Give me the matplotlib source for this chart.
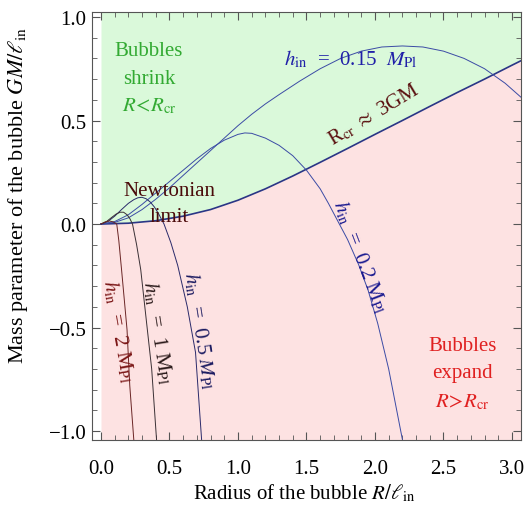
import numpy as np
import matplotlib
matplotlib.use("Agg")
import matplotlib.pyplot as plt
from matplotlib.ticker import MultipleLocator, FuncFormatter

plt.rcParams['font.family'] = ['Liberation Serif', 'DejaVu Serif']
plt.rcParams['mathtext.fontset'] = 'stix'

# critical radius line R_cr ~ 3GM
rcr_R = [0.0, 0.2, 0.4, 0.6, 0.8, 1.0, 1.2, 1.4, 1.6, 1.8, 2.0, 2.2, 2.4, 2.6, 2.8, 3.0, 3.07]
rcr_M = [0.0, 0.004, 0.016, 0.038, 0.07, 0.115, 0.17, 0.232, 0.298, 0.365, 0.433, 0.50, 0.568,
         0.635, 0.70, 0.767, 0.79]

# h_in = 0.15 M_Pl
h015_R = [0.0, 0.1, 0.2, 0.3, 0.4, 0.5, 0.6, 0.7, 0.8, 0.9, 1.0, 1.1, 1.2, 1.3, 1.45, 1.6,
          1.75, 1.9, 2.05, 2.2, 2.35, 2.5, 2.65, 2.8, 2.95, 3.07]
h015_M = [0.0, 0.008, 0.03, 0.07, 0.12, 0.175, 0.235, 0.295, 0.355, 0.415, 0.475, 0.53, 0.58,
          0.625, 0.69, 0.75, 0.80, 0.835, 0.855, 0.86, 0.855, 0.835, 0.80, 0.75, 0.68, 0.61]

# h_in = 0.2 M_Pl
h02_R = [0.0, 0.1, 0.2, 0.3, 0.4, 0.5, 0.6, 0.7, 0.8, 0.9, 1.0, 1.05, 1.1, 1.2, 1.3, 1.4,
         1.5, 1.6, 1.66, 1.72, 1.8, 1.88, 1.95, 2.02, 2.1, 2.2]
h02_M = [0.0, 0.012, 0.045, 0.095, 0.15, 0.205, 0.26, 0.315, 0.365, 0.405, 0.433, 0.44, 0.438,
         0.415, 0.38, 0.33, 0.26, 0.17, 0.10, 0.025, -0.075, -0.195, -0.32, -0.48, -0.70, -1.04]

# h_in = 0.5 M_Pl
h05_R = [0.0, 0.05, 0.1, 0.15, 0.2, 0.24, 0.27, 0.30, 0.33, 0.36, 0.39, 0.42, 0.46, 0.51,
         0.56, 0.63, 0.69, 0.735]
h05_M = [0.0, 0.012, 0.038, 0.07, 0.10, 0.118, 0.127, 0.129, 0.122, 0.106, 0.082, 0.05, 0.0,
         -0.09, -0.2, -0.4, -0.62, -1.047]

# h_in = 1 M_Pl
h1_R = [0.0, 0.04, 0.08, 0.11, 0.14, 0.165, 0.19, 0.21, 0.23, 0.26, 0.29, 0.33, 0.37, 0.406]
h1_M = [0.0, 0.012, 0.033, 0.048, 0.057, 0.057, 0.045, 0.027, 0.0, -0.1, -0.22, -0.46, -0.70,
        -1.047]

# h_in = 2 M_Pl
h2_R = [0.0, 0.03, 0.06, 0.09, 0.115, 0.13, 0.15, 0.19, 0.21, 0.24]
h2_M = [0.0, 0.01, 0.015, 0.01, 0.0, -0.08, -0.22, -0.51, -0.78, -1.047]

x_ticks = [0.0, 0.5, 1.0, 1.5, 2.0, 2.5, 3.0]
y_ticks = [-1.0, -0.5, 0.0, 0.5, 1.0]

fig = plt.figure(figsize=(5.27, 5.06), dpi=100)
ax = fig.add_axes([92/527, 1-441/506, (521-92)/527, (441-13)/506])
xmin, xmax = -0.0657, 3.066
ymin, ymax = -1.043, 1.024
ax.set_xlim(xmin, xmax)
ax.set_ylim(ymin, ymax)

# shaded regions above / below the critical line
ax.fill_between(rcr_R, rcr_M, ymax, color='#daf9da', lw=0, zorder=0)
ax.fill_between(rcr_R, ymin, rcr_M, color='#fde2e2', lw=0, zorder=0)

ax.plot(rcr_R, rcr_M, color='#2b3585', lw=1.2)
ax.plot(h015_R, h015_M, color='#3b4ba5', lw=0.7)
ax.plot(h02_R, h02_M, color='#3b4ba5', lw=0.7)
ax.plot(h05_R, h05_M, color='#2a2a6a', lw=0.7)
ax.plot(h1_R, h1_M, color='#3a3035', lw=0.7)
ax.plot(h2_R, h2_M, color='#6a2525', lw=0.7)

# annotations
fs = 15
ax.text(0.35, 0.836, "Bubbles", color='#33aa33', fontsize=fs, ha='center', va='center')
ax.text(0.35, 0.705, "shrink", color='#33aa33', fontsize=fs, ha='center', va='center')
ax.text(0.35, 0.575, r"$R\!<\!R_{\rm cr}$", color='#33aa33', fontsize=fs, ha='center', va='center')

ax.text(2.64, -0.585, "Bubbles", color='#e02020', fontsize=fs, ha='center', va='center')
ax.text(2.64, -0.715, "expand", color='#e02020', fontsize=fs, ha='center', va='center')
ax.text(2.64, -0.855, r"$R\!>\!R_{\rm cr}$", color='#e02020', fontsize=fs, ha='center', va='center')

ax.text(0.50, 0.16, "Newtonian", color='#4a0a0a', fontsize=fs, ha='center', va='center')
ax.text(0.50, 0.034, "limit", color='#4a0a0a', fontsize=fs, ha='center', va='center')

ax.text(1.99, 0.53, r"R$_{\rm cr}$ $\approx$ 3GM", color='#5a0f0f', fontsize=fs,
        ha='center', va='center', rotation=31, rotation_mode='anchor')

ax.text(1.82, 0.80, r"$h_{\rm in}$  =  0.15  $M_{\rm Pl}$", color='#2020a8', fontsize=fs,
        ha='center', va='center')
ax.text(1.89, -0.155, r"$h_{\rm in}$  =  0.2 M$_{\rm Pl}$", color='#1a1a90', fontsize=fs,
        ha='center', va='center', rotation=-69, rotation_mode='anchor')
ax.text(0.72, -0.51, r"$h_{\rm in}$  =  0.5 $M_{\rm Pl}$", color='#1a1a60', fontsize=fs,
        ha='center', va='center', rotation=-81, rotation_mode='anchor')
ax.text(0.416, -0.517, r"$h_{\rm in}$  =  1 M$_{\rm Pl}$", color='#2a1a1a', fontsize=fs,
        ha='center', va='center', rotation=-81, rotation_mode='anchor')
ax.text(0.124, -0.512, r"$h_{\rm in}$  =  2 M$_{\rm Pl}$", color='#7a1515', fontsize=fs,
        ha='center', va='center', rotation=-80, rotation_mode='anchor')

# axes styling
def fmt(v, pos):
    return ("%.1f" % v).replace("-", "\u2212")

ax.set_xticks(x_ticks)
ax.set_yticks(y_ticks)
ax.xaxis.set_minor_locator(MultipleLocator(0.1))
ax.yaxis.set_minor_locator(MultipleLocator(0.1))
ax.xaxis.set_major_formatter(FuncFormatter(fmt))
ax.yaxis.set_major_formatter(FuncFormatter(fmt))
ax.tick_params(which='both', direction='in', top=True, right=True, color='#555555')
ax.tick_params(which='major', length=6, width=0.8, labelsize=fs)
ax.tick_params(which='minor', length=3.5, width=0.6)
ax.tick_params(axis='x', pad=14)
ax.tick_params(axis='y', pad=4)
for s in ax.spines.values():
    s.set_color('#555555')
    s.set_linewidth(0.8)

fig.text(304/527, 1-493/506, r"Radius of the bubble $R/\ell_{\rm in}$", fontsize=fs,
         ha='center', va='center')
fig.text(18/527, 1-195/506, r"Mass parameter of the bubble $GM/\ell_{\rm in}$", fontsize=16,
         ha='center', va='center', rotation=90)

fig.savefig("out.png", dpi=100)
